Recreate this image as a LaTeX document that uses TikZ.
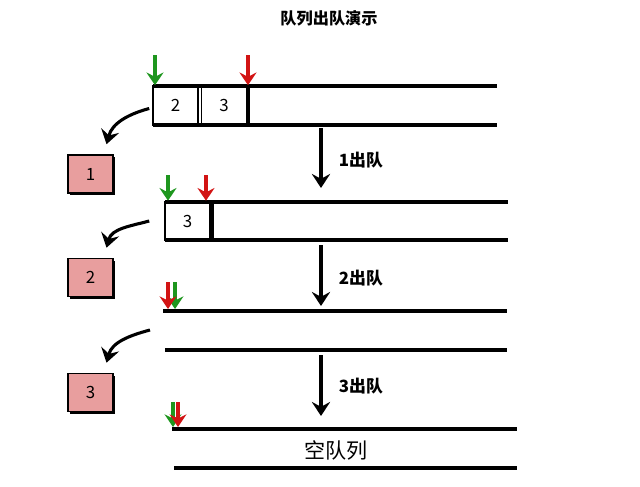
\documentclass[tikz,border=0pt]{standalone}
\usepackage{fontspec}
\setmainfont{Noto Sans CJK SC}
\usetikzlibrary{arrows.meta,shadows,calc,positioning}
\definecolor{ptrgreen}{RGB}{30,150,30}
\definecolor{ptrred}{RGB}{210,20,20}
\definecolor{boxpink}{RGB}{232,158,158}
\tikzset{
  qline/.style={line width=2.6pt},
  cell/.style={draw, line width=1.1pt, minimum width=1.125cm, minimum height=0.975cm, inner sep=0pt, font=\large},
  outbox/.style={draw, line width=1.1pt, fill=boxpink, minimum width=1.125cm, minimum height=0.95cm, inner sep=0pt, font=\large,
    drop shadow={shadow xshift=1.6pt, shadow yshift=-1.6pt, opacity=1, fill=black}},
  ptr/.style={line width=2.2pt, -{Stealth[length=9pt,width=12pt,inset=3pt]}},
  outarrow/.style={line width=2.2pt, -{Stealth[length=10pt,width=13pt,inset=3.5pt]}},
  steparrow/.style={line width=2.2pt, -{Stealth[length=10pt,width=13pt,inset=3.5pt]}},
  steplabel/.style={anchor=west, font=\fontsize{12}{14}\selectfont\bfseries}
}
\begin{document}
\begin{tikzpicture}[x=0.025cm, y=-0.025cm]
  \useasboundingbox (0,0) rectangle (640,487);
  \node[font=\fontsize{11.5}{14}\selectfont\bfseries] (title) at (329,18) {队列出队演示};

  % queue with 2 and 3
  \node[cell] (c12) at (175.5,105.5) {2};
  \node[cell] (c13) at (224,105.5) {3};
  \draw[qline] (153,86) -- (497,86);
  \draw[qline] (153,125) -- (497,125);
  \draw[qline] (248,86) -- (248,125);
  \coordinate (h1) at (155,55);
  \coordinate (t1) at (248,55);
  \draw[ptr, ptrgreen] (h1) -- (c12.north west -| h1);
  \draw[ptr, ptrred] (t1) -- (c13.north east -| t1);
  \node[outbox] (o1) at (90.5,174) {1};
  \draw[outarrow] ($(c12.west)+(-3,3)$) to[out=195, in=75] ($(o1.north)+(16,-10)$);

  \coordinate (s1a) at (321,128);
  \coordinate (s1b) at (321,188);
  \draw[steparrow] (s1a) -- (s1b);
  \node[steplabel] (l1) at (334,160) {1出队};

  % queue with 3
  \node[cell] (c23) at (187.5,221) {3};
  \draw[qline] (165,202) -- (508,202);
  \draw[qline] (165,240) -- (508,240);
  \draw[qline] (212,202) -- (212,240);
  \coordinate (h2) at (168,175);
  \coordinate (t2) at (206,175);
  \draw[ptr, ptrgreen] (h2) -- (c23.north west -| h2);
  \draw[ptr, ptrred] (t2) -- (c23.north east -| t2);
  \node[outbox] (o2) at (90.5,277.5) {2};
  \draw[outarrow] ($(c23.west)+(-15,0)$) to[out=195, in=75] ($(o2.north)+(16,-10)$);

  \coordinate (s2a) at (321,245);
  \coordinate (s2b) at (321,306);
  \draw[steparrow] (s2a) -- (s2b);
  \node[steplabel] (l2) at (334,278) {2出队};

  % empty queue
  \draw[qline] (163,311) -- (507,311);
  \draw[qline] (165,350) -- (507,350);
  \coordinate (g3) at (175,282);
  \coordinate (r3) at (168,282);
  \draw[ptr, ptrgreen] (g3) -- (175,309);
  \draw[ptr, ptrred] (r3) -- (168,309);
  \coordinate (e3) at (150,330);
  \node[outbox] (o3) at (90.5,392.5) {3};
  \draw[outarrow] (e3) to[out=195, in=75] ($(o3.north)+(16,-10)$);

  \coordinate (s3a) at (321,355);
  \coordinate (s3b) at (321,416);
  \draw[steparrow] (s3a) -- (s3b);
  \node[steplabel] (l3) at (334,386) {3出队};

  % final
  \draw[qline] (172,429) -- (517,429);
  \draw[qline] (174,468) -- (517,468);
  \coordinate (g4) at (173,402);
  \coordinate (r4) at (178,402);
  \draw[ptr, ptrgreen] (g4) -- (173,427);
  \draw[ptr, ptrred] (r4) -- (178,427);
  \node[font=\fontsize{15}{18}\selectfont] (empty) at (336,450) {空队列};
\end{tikzpicture}
\end{document}
